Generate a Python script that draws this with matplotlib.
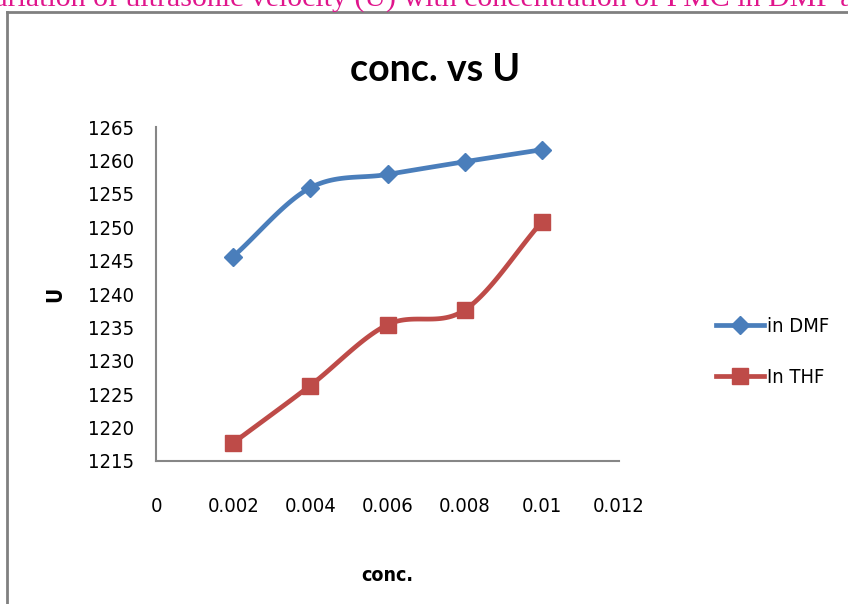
import numpy as np
import matplotlib
matplotlib.use("Agg")
import matplotlib.pyplot as plt
from matplotlib.lines import Line2D
from matplotlib import font_manager

conc = [0.002, 0.004, 0.006, 0.008, 0.01]
u_dmf = [1245.6, 1255.9, 1257.9, 1259.8, 1261.6]
u_thf = [1217.7, 1226.3, 1235.4, 1237.6, 1250.8]
x_ticks = [0, 0.002, 0.004, 0.006, 0.008, 0.01, 0.012]
x_ticklabels = ["0", "0.002", "0.004", "0.006", "0.008", "0.01", "0.012"]
y_ticks = list(range(1215, 1270, 5))

blue = "#4a7ebb"
red = "#be4b48"


def smooth(x, y, n=30):
    # Catmull-Rom style curve through the points (like a "smoothed line")
    x = np.asarray(x, float)
    y = np.asarray(y, float)
    px = np.concatenate([[2 * x[0] - x[1]], x, [2 * x[-1] - x[-2]]])
    py = np.concatenate([[2 * y[0] - y[1]], y, [2 * y[-1] - y[-2]]])
    xs, ys = [], []
    t = np.linspace(0, 1, n)
    for i in range(1, len(px) - 2):
        p0, p1, p2, p3 = [np.array([px[j], py[j]]) for j in range(i - 1, i + 3)]
        c1 = p1 + (p2 - p0) / 6
        c2 = p2 - (p3 - p1) / 6
        b = ((1 - t) ** 3)[:, None] * p1 + (3 * (1 - t) ** 2 * t)[:, None] * c1 \
            + (3 * (1 - t) * t ** 2)[:, None] * c2 + (t ** 3)[:, None] * p2
        xs.extend(b[:, 0])
        ys.extend(b[:, 1])
    return xs, ys


def cond(size=14, weight="normal"):
    return font_manager.FontProperties(family="DejaVu Sans", stretch="condensed",
                                       size=size, weight=weight)


fig = plt.figure(figsize=(8.48, 6.04), dpi=100)
ax = fig.add_axes([156 / 848, 1 - 461 / 604, 463 / 848, 334 / 604])

for yv, col, mk, ms in [(u_dmf, blue, "D", 9), (u_thf, red, "s", 12)]:
    sx, sy = smooth(conc, yv)
    ax.plot(sx, sy, color=col, lw=3.4, solid_capstyle="round")
    ax.plot(conc, yv, ls="none", marker=mk, ms=ms, color=col, mec=col)

ax.set_xlim(0, 0.012)
ax.set_ylim(1215, 1265)
ax.set_xticks(x_ticks)
ax.set_xticklabels(x_ticklabels)
ax.set_yticks(y_ticks)
ax.tick_params(axis="y", length=0, pad=16)
ax.tick_params(axis="x", length=0, pad=26)
for lab in ax.get_xticklabels() + ax.get_yticklabels():
    lab.set_fontproperties(cond(14.5))
for side in ["top", "right"]:
    ax.spines[side].set_visible(False)
for side in ["left", "bottom"]:
    ax.spines[side].set_color("#868686")
    ax.spines[side].set_linewidth(1.5)

ax.set_xlabel("conc.", fontproperties=cond(14, "bold"), labelpad=36)
ax.set_ylabel("U", fontproperties=cond(15, "bold"), labelpad=16)
fig.text(435 / 848, 1 - 70 / 604, "conc. vs U", ha="center", va="center",
         family=["Lato", "DejaVu Sans"], fontsize=27, fontweight="bold")

handles = [
    Line2D([], [], color=blue, lw=3.4, marker="D", ms=9),
    Line2D([], [], color=red, lw=3.4, marker="s", ms=12),
]
fig.legend(handles, ["in DMF", "In THF"], loc="center left",
           bbox_to_anchor=(698 / 848, 1 - 352 / 604), frameon=False,
           prop=cond(14.5), handlelength=2.4,
           handletextpad=0.15, labelspacing=1.55)

# frame of the surrounding box and the cut caption above it
fig.add_artist(Line2D([7 / 848, 7 / 848], [0, 1 - 12 / 604],
                      transform=fig.transFigure, color="#808080", lw=2))
fig.add_artist(Line2D([7 / 848, 1], [1 - 12 / 604, 1 - 12 / 604],
                      transform=fig.transFigure, color="#808080", lw=2))
fig.text(-24 / 848, 1 - 7 / 604,
         "Variation of ultrasonic velocity (U) with concentration of PMC in DMF and THF",
         ha="left", va="baseline", color="#e0158c",
         family=["Liberation Serif", "DejaVu Serif"], fontsize=21.5)

fig.savefig("out.png", dpi=100)
